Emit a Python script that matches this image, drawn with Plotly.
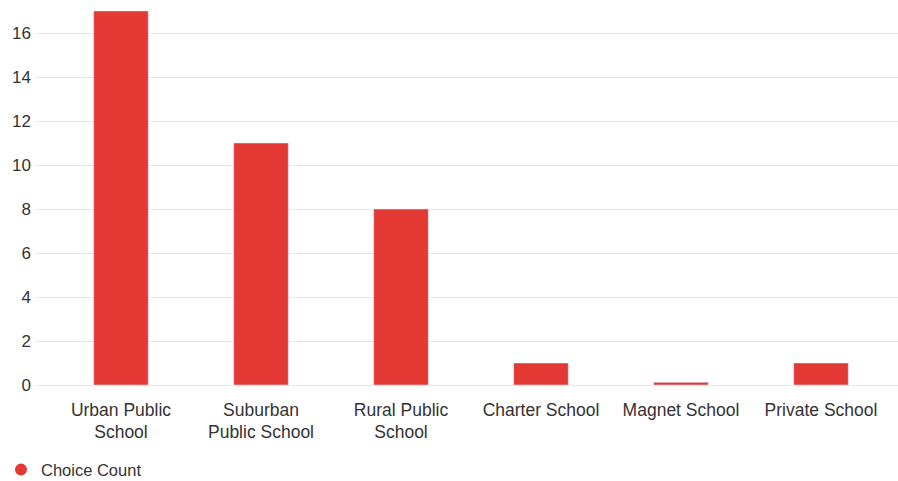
import plotly.graph_objects as go

categories = ["Urban Public<br>School", "Suburban<br>Public School", "Rural Public<br>School",
              "Charter School", "Magnet School", "Private School"]
counts = [17, 11, 8, 1, 0.12, 1]
series_name = "Choice Count"
y_ticks = [0, 2, 4, 6, 8, 10, 12, 14, 16]

color = "#E43834"
fig = go.Figure()
fig.add_trace(go.Bar(x=list(range(len(categories))), y=counts, marker_color=color,
                     showlegend=False, name=series_name, width=0.39))
fig.add_trace(go.Scatter(x=[None], y=[None], mode="markers", name=series_name,
                         marker=dict(symbol="circle", size=12, color=color)))

fig.update_layout(
    width=898, height=481,
    margin=dict(l=36, r=0, t=11, b=96, autoexpand=False),
    plot_bgcolor="white", paper_bgcolor="white",
    font=dict(family="Liberation Sans, Arial, sans-serif", size=17, color="#333333"),
    xaxis=dict(range=[-0.607, 5.55], tickmode="array", tickvals=list(range(len(categories))),
               ticktext=categories, showgrid=False, zeroline=False, showline=False,
               automargin=False,
               tickfont=dict(size=17.5, color="#333333"), ticklabelstandoff=12),
    yaxis=dict(range=[0, 17], tickvals=y_ticks, showgrid=True, gridcolor="#e8e8e8",
               zeroline=True, zerolinecolor="#e8e8e8", zerolinewidth=1, automargin=False,
               tickfont=dict(size=17, color="#333333"), ticklabelstandoff=4),
    legend=dict(orientation="h", x=-0.0406, xanchor="left", y=-0.227, yanchor="middle",
                font=dict(size=16.5, color="#333333"), itemwidth=30),
)
fig.write_html("out.html")
